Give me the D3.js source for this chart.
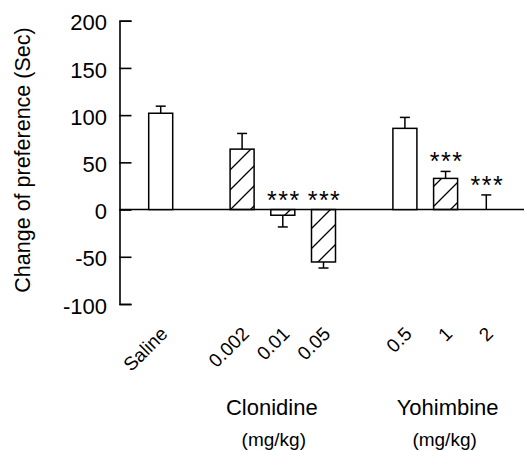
<!DOCTYPE html>
<html>
<head>
<meta charset="utf-8">
<script src="https://cdn.jsdelivr.net/npm/d3@7/dist/d3.min.js"></script>
<style>
  html, body { margin: 0; padding: 0; background: #fff; }
  svg { display: block; }
  text { font-family: "Liberation Sans", Arial, sans-serif; fill: #000; }
</style>
</head>
<body>
<svg id="chart" width="525" height="451"></svg>
<script>
// ---- data ----
const categories = ["Saline", "0.002", "0.01", "0.05", "0.5", "1", "2"];
const groups     = ["Saline", "Clonidine", "Clonidine", "Clonidine", "Yohimbine", "Yohimbine", "Yohimbine"];
const hatched    = [false, true, true, true, false, true, true];
const means      = [102, 64, -6, -55.5, 86, 33, 0];
const sems       = [7.5, 16.6, 12.4, 6.4, 11.6, 7.4, 15.5];
const stars      = ["", "", "***", "***", "", "***", "***"];
const yTicks     = [-100, -50, 0, 50, 100, 150, 200];
const groupTitles = ["Clonidine", "Yohimbine"];
const unitLabel  = "(mg/kg)";
const yTitle     = "Change of preference (Sec)";

// ---- layout ----
const svg = d3.select("#chart");
const axisX = 119.5;
const y = d3.scaleLinear().domain([-100, 200]).range([304, 20.7]);

// slot domain: insert a gap when group changes
const slots = [];
categories.forEach((c, i) => {
  if (i > 0 && groups[i] !== groups[i - 1]) slots.push("gap" + i);
  slots.push(c);
});
const x = d3.scalePoint().domain(slots).range([160.7, 486.3]);
const barW = 24;

// hatch pattern
const defs = svg.append("defs");
defs.append("pattern")
  .attr("id", "hatch")
  .attr("patternUnits", "userSpaceOnUse")
  .attr("width", 20).attr("height", 20)
  .append("path")
  .attr("d", "M-5,5 L5,-5 M0,20 L20,0 M15,25 L25,15")
  .attr("stroke", "#000").attr("stroke-width", 1.3).attr("fill", "none");

// y axis (ticks pointing inward)
const yAxis = d3.axisRight(y).tickValues(yTicks).tickSize(12).tickSizeOuter(12).tickFormat("");
const ga = svg.append("g").attr("transform", `translate(${axisX},0)`).call(yAxis);
ga.selectAll("path, line").attr("stroke", "#000").attr("stroke-width", 1.6);

svg.append("g").selectAll("text").data(yTicks).join("text")
  .attr("x", 107).attr("y", d => y(d)).attr("dy", "0.44em")
  .attr("text-anchor", "end").style("font-size", "22px")
  .text(d => d);

// y title
svg.append("text")
  .attr("transform", `translate(30,160) rotate(-90)`)
  .attr("text-anchor", "middle").style("font-size", "21.5px")
  .text(yTitle);

// zero line
svg.append("line")
  .attr("x1", axisX).attr("x2", 524)
  .attr("y1", y(0)).attr("y2", y(0))
  .attr("stroke", "#000").attr("stroke-width", 1.5);

const data = categories.map((c, i) => ({
  c, g: groups[i], h: hatched[i], m: means[i], e: sems[i], s: stars[i]
}));

// error bars
const eb = svg.append("g").selectAll("g").data(data).join("g");
eb.append("line")
  .attr("x1", d => x(d.c)).attr("x2", d => x(d.c))
  .attr("y1", d => y(d.m))
  .attr("y2", d => y(d.m + (d.m < 0 ? -d.e : d.e)))
  .attr("stroke", "#000").attr("stroke-width", 1.5);
eb.append("line")
  .attr("x1", d => x(d.c) - 5).attr("x2", d => x(d.c) + 5)
  .attr("y1", d => y(d.m + (d.m < 0 ? -d.e : d.e)))
  .attr("y2", d => y(d.m + (d.m < 0 ? -d.e : d.e)))
  .attr("stroke", "#000").attr("stroke-width", 1.5);

// bars
svg.append("g").selectAll("rect").data(data.filter(d => d.m !== 0)).join("rect")
  .attr("x", d => x(d.c) - barW / 2)
  .attr("width", barW)
  .attr("y", d => y(Math.max(0, d.m)))
  .attr("height", d => Math.abs(y(d.m) - y(0)))
  .attr("fill", d => d.h ? "url(#hatch)" : "#fff")
  .attr("stroke", "#000").attr("stroke-width", 1.5);

// significance stars
svg.append("g").selectAll("text").data(data.filter(d => d.s)).join("text")
  .attr("x", d => x(d.c) + 1)
  .attr("y", d => y(Math.max(0, d.m + (d.m < 0 ? 0 : d.e))) - 1)
  .attr("text-anchor", "middle")
  .style("font-size", "25px").style("letter-spacing", "1.5px")
  .text(d => d.s);

// category tick labels (rotated)
svg.append("g").selectAll("text").data(categories).join("text")
  .attr("transform", d => `translate(${x(d) + 8},335) rotate(-45)`)
  .attr("text-anchor", "end").style("font-size", "19px")
  .text(d => d);

// group titles
const groupLabelDx = { Clonidine: -11, Yohimbine: 2 };
const unitDx = { Clonidine: -9, Yohimbine: -1 };
groupTitles.forEach(gname => {
  const members = categories.filter((c, i) => groups[i] === gname);
  const cx = d3.mean(members, m => x(m));
  svg.append("text").attr("x", cx + groupLabelDx[gname]).attr("y", 414.5)
    .attr("text-anchor", "middle").style("font-size", "22px").text(gname);
  svg.append("text").attr("x", cx + unitDx[gname]).attr("y", 446)
    .attr("text-anchor", "middle").style("font-size", "19px").text(unitLabel);
});
</script>
</body>
</html>
